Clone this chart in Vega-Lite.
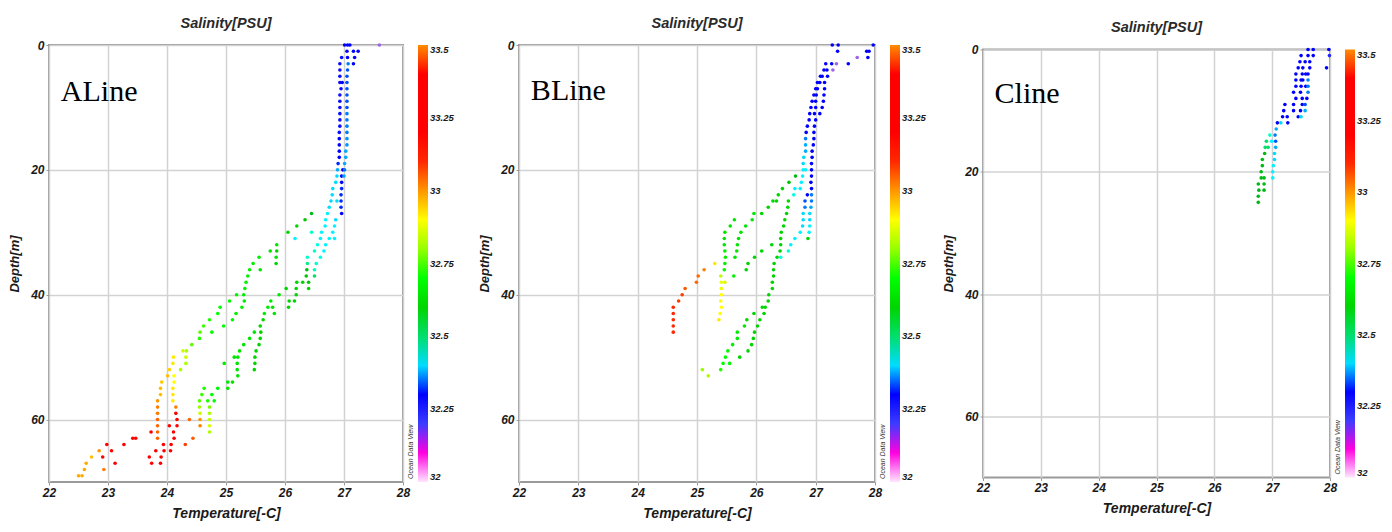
{
  "$schema": "https://vega.github.io/schema/vega-lite/v6.json",
  "background": "white",
  "padding": {"left": 7, "top": 14, "right": 0, "bottom": 0},
  "config": {
    "view": {"stroke": "#9a9a9a", "strokeWidth": 2},
    "axis": {"labelFont": "Liberation Sans", "labelFontStyle": "italic", "labelFontWeight": "bold", "labelFontSize": 12, "labelColor": "#1a1a1a", "titleFont": "Liberation Sans", "titleFontStyle": "italic", "titleFontWeight": "bold", "titleColor": "#1a1a1a", "gridColor": "#d2d2d2", "gridWidth": 1.5, "domain": false, "tickColor": "#9a9a9a", "tickSize": 3, "labelPadding": 2, "labelFlush": false, "format": "d"},
    "axisX": {"titleFontSize": 14, "titlePadding": 8},
    "axisY": {"titleFontSize": 13, "titlePadding": 9},
    "legend": {"offset": 15, "gradientThickness": 10, "labelFont": "Liberation Sans", "labelFontStyle": "italic", "labelFontWeight": "bold", "labelFontSize": 9.5, "labelColor": "#1a1a1a", "labelOffset": 3, "gradientStrokeWidth": 0},
    "title": {"font": "Liberation Sans", "fontSize": 14.5, "fontWeight": "bold", "fontStyle": "italic", "color": "#2a2a2a", "offset": 8, "frame": "group", "anchor": "middle"}
  },
  "datasets": {
    "labels": [
      {"line": "A", "label": "ALine", "temp": 22.2, "depth": 9.0},
      {"line": "B", "label": "BLine", "temp": 22.2, "depth": 8.8},
      {"line": "C", "label": "Cline", "temp": 22.2, "depth": 8.8}
    ],
    "points": [
      {"line":"A","depth":0,"temp":27.01,"sal":32.26},{"line":"A","depth":0,"temp":27.06,"sal":32.26},{"line":"A","depth":0,"temp":27.10,"sal":32.28},{"line":"A","depth":0,"temp":27.60,"sal":32.15},
      {"line":"A","depth":1,"temp":27.05,"sal":32.26},{"line":"A","depth":1,"temp":27.16,"sal":32.26},{"line":"A","depth":1,"temp":27.24,"sal":32.26},
      {"line":"A","depth":2,"temp":26.96,"sal":32.24},{"line":"A","depth":2,"temp":27.06,"sal":32.26},{"line":"A","depth":2,"temp":27.18,"sal":32.30},
      {"line":"A","depth":3,"temp":26.93,"sal":32.24},{"line":"A","depth":3,"temp":27.07,"sal":32.36},{"line":"A","depth":3,"temp":27.16,"sal":32.30},
      {"line":"A","depth":4,"temp":26.93,"sal":32.24},{"line":"A","depth":4,"temp":27.06,"sal":32.34},
      {"line":"A","depth":5,"temp":26.93,"sal":32.24},{"line":"A","depth":5,"temp":27.05,"sal":32.34},
      {"line":"A","depth":6,"temp":26.93,"sal":32.24},{"line":"A","depth":6,"temp":26.97,"sal":32.26},{"line":"A","depth":6,"temp":27.05,"sal":32.34},
      {"line":"A","depth":7,"temp":26.95,"sal":32.24},{"line":"A","depth":7,"temp":27.05,"sal":32.34},
      {"line":"A","depth":8,"temp":26.93,"sal":32.24},{"line":"A","depth":8,"temp":27.05,"sal":32.34},
      {"line":"A","depth":9,"temp":26.93,"sal":32.24},{"line":"A","depth":9,"temp":27.05,"sal":32.34},
      {"line":"A","depth":10,"temp":26.93,"sal":32.24},{"line":"A","depth":10,"temp":27.05,"sal":32.34},
      {"line":"A","depth":11,"temp":26.93,"sal":32.24},{"line":"A","depth":11,"temp":27.05,"sal":32.36},
      {"line":"A","depth":12,"temp":26.93,"sal":32.24},{"line":"A","depth":12,"temp":27.05,"sal":32.36},
      {"line":"A","depth":13,"temp":26.93,"sal":32.24},{"line":"A","depth":13,"temp":27.05,"sal":32.36},
      {"line":"A","depth":14,"temp":26.92,"sal":32.24},{"line":"A","depth":14,"temp":27.05,"sal":32.36},
      {"line":"A","depth":15,"temp":26.92,"sal":32.25},{"line":"A","depth":15,"temp":27.05,"sal":32.37},
      {"line":"A","depth":16,"temp":26.92,"sal":32.25},{"line":"A","depth":16,"temp":27.05,"sal":32.37},
      {"line":"A","depth":17,"temp":26.92,"sal":32.30},{"line":"A","depth":17,"temp":27.03,"sal":32.38},
      {"line":"A","depth":18,"temp":26.92,"sal":32.30},{"line":"A","depth":18,"temp":27.03,"sal":32.38},
      {"line":"A","depth":19,"temp":26.90,"sal":32.32},{"line":"A","depth":19,"temp":27.01,"sal":32.38},
      {"line":"A","depth":20,"temp":26.89,"sal":32.38},{"line":"A","depth":20,"temp":26.98,"sal":32.30},{"line":"A","depth":20,"temp":27.01,"sal":32.36},
      {"line":"A","depth":21,"temp":26.88,"sal":32.40},{"line":"A","depth":21,"temp":26.96,"sal":32.30},{"line":"A","depth":21,"temp":27.00,"sal":32.38},
      {"line":"A","depth":22,"temp":26.86,"sal":32.40},{"line":"A","depth":22,"temp":26.96,"sal":32.30},
      {"line":"A","depth":23,"temp":26.81,"sal":32.40},{"line":"A","depth":23,"temp":26.96,"sal":32.32},
      {"line":"A","depth":24,"temp":26.80,"sal":32.40},{"line":"A","depth":24,"temp":26.95,"sal":32.32},
      {"line":"A","depth":25,"temp":26.78,"sal":32.40},{"line":"A","depth":25,"temp":26.88,"sal":32.40},{"line":"A","depth":25,"temp":26.95,"sal":32.32},
      {"line":"A","depth":26,"temp":26.75,"sal":32.40},{"line":"A","depth":26,"temp":26.95,"sal":32.32},
      {"line":"A","depth":27,"temp":26.45,"sal":32.55},{"line":"A","depth":27,"temp":26.72,"sal":32.42},{"line":"A","depth":27,"temp":26.96,"sal":32.30},
      {"line":"A","depth":28,"temp":26.34,"sal":32.58},{"line":"A","depth":28,"temp":26.69,"sal":32.42},{"line":"A","depth":28,"temp":26.86,"sal":32.40},
      {"line":"A","depth":29,"temp":26.20,"sal":32.60},{"line":"A","depth":29,"temp":26.68,"sal":32.42},{"line":"A","depth":29,"temp":26.84,"sal":32.42},
      {"line":"A","depth":30,"temp":26.05,"sal":32.60},{"line":"A","depth":30,"temp":26.45,"sal":32.45},{"line":"A","depth":30,"temp":26.62,"sal":32.42},{"line":"A","depth":30,"temp":26.81,"sal":32.42},
      {"line":"A","depth":31,"temp":26.17,"sal":32.42},{"line":"A","depth":31,"temp":26.60,"sal":32.42},{"line":"A","depth":31,"temp":26.75,"sal":32.42},{"line":"A","depth":31,"temp":26.84,"sal":32.42},
      {"line":"A","depth":32,"temp":25.86,"sal":32.62},{"line":"A","depth":32,"temp":26.55,"sal":32.44},{"line":"A","depth":32,"temp":26.69,"sal":32.42},
      {"line":"A","depth":33,"temp":25.75,"sal":32.62},{"line":"A","depth":33,"temp":25.86,"sal":32.60},{"line":"A","depth":33,"temp":26.50,"sal":32.45},{"line":"A","depth":33,"temp":26.66,"sal":32.42},
      {"line":"A","depth":34,"temp":25.56,"sal":32.65},{"line":"A","depth":34,"temp":25.85,"sal":32.62},{"line":"A","depth":34,"temp":26.38,"sal":32.45},{"line":"A","depth":34,"temp":26.60,"sal":32.44},
      {"line":"A","depth":35,"temp":25.46,"sal":32.65},{"line":"A","depth":35,"temp":25.85,"sal":32.60},{"line":"A","depth":35,"temp":26.38,"sal":32.48},{"line":"A","depth":35,"temp":26.53,"sal":32.45},
      {"line":"A","depth":36,"temp":25.40,"sal":32.66},{"line":"A","depth":36,"temp":25.58,"sal":32.62},{"line":"A","depth":36,"temp":26.37,"sal":32.55},{"line":"A","depth":36,"temp":26.50,"sal":32.46},
      {"line":"A","depth":37,"temp":25.37,"sal":32.66},{"line":"A","depth":37,"temp":26.36,"sal":32.58},{"line":"A","depth":37,"temp":26.50,"sal":32.50},
      {"line":"A","depth":38,"temp":25.34,"sal":32.66},{"line":"A","depth":38,"temp":26.20,"sal":32.60},{"line":"A","depth":38,"temp":26.30,"sal":32.60},{"line":"A","depth":38,"temp":26.40,"sal":32.58},
      {"line":"A","depth":39,"temp":25.32,"sal":32.66},{"line":"A","depth":39,"temp":26.02,"sal":32.60},{"line":"A","depth":39,"temp":26.19,"sal":32.60},{"line":"A","depth":39,"temp":26.40,"sal":32.60},
      {"line":"A","depth":40,"temp":25.18,"sal":32.66},{"line":"A","depth":40,"temp":25.30,"sal":32.65},{"line":"A","depth":40,"temp":25.90,"sal":32.62},{"line":"A","depth":40,"temp":26.19,"sal":32.60},
      {"line":"A","depth":41,"temp":25.06,"sal":32.68},{"line":"A","depth":41,"temp":25.31,"sal":32.65},{"line":"A","depth":41,"temp":25.76,"sal":32.64},{"line":"A","depth":41,"temp":26.07,"sal":32.60},{"line":"A","depth":41,"temp":26.16,"sal":32.60},
      {"line":"A","depth":42,"temp":24.90,"sal":32.70},{"line":"A","depth":42,"temp":25.27,"sal":32.66},{"line":"A","depth":42,"temp":25.71,"sal":32.64},{"line":"A","depth":42,"temp":25.79,"sal":32.62},{"line":"A","depth":42,"temp":26.06,"sal":32.60},
      {"line":"A","depth":43,"temp":24.86,"sal":32.70},{"line":"A","depth":43,"temp":25.17,"sal":32.66},{"line":"A","depth":43,"temp":25.65,"sal":32.64},{"line":"A","depth":43,"temp":25.82,"sal":32.62},
      {"line":"A","depth":44,"temp":24.72,"sal":32.72},{"line":"A","depth":44,"temp":25.11,"sal":32.68},{"line":"A","depth":44,"temp":25.63,"sal":32.60},
      {"line":"A","depth":45,"temp":24.62,"sal":32.74},{"line":"A","depth":45,"temp":24.96,"sal":32.70},{"line":"A","depth":45,"temp":25.58,"sal":32.60},
      {"line":"A","depth":46,"temp":24.56,"sal":32.76},{"line":"A","depth":46,"temp":24.76,"sal":32.70},{"line":"A","depth":46,"temp":25.48,"sal":32.62},{"line":"A","depth":46,"temp":25.59,"sal":32.60},
      {"line":"A","depth":47,"temp":24.55,"sal":32.72},{"line":"A","depth":47,"temp":25.40,"sal":32.62},{"line":"A","depth":47,"temp":25.58,"sal":32.60},
      {"line":"A","depth":48,"temp":24.42,"sal":32.76},{"line":"A","depth":48,"temp":25.30,"sal":32.62},{"line":"A","depth":48,"temp":25.56,"sal":32.60},
      {"line":"A","depth":49,"temp":24.27,"sal":32.85},{"line":"A","depth":49,"temp":24.33,"sal":32.82},{"line":"A","depth":49,"temp":25.23,"sal":32.62},{"line":"A","depth":49,"temp":25.51,"sal":32.60},
      {"line":"A","depth":50,"temp":24.11,"sal":32.92},{"line":"A","depth":50,"temp":24.32,"sal":32.85},{"line":"A","depth":50,"temp":25.14,"sal":32.62},{"line":"A","depth":50,"temp":25.20,"sal":32.62},{"line":"A","depth":50,"temp":25.49,"sal":32.60},
      {"line":"A","depth":51,"temp":24.10,"sal":32.92},{"line":"A","depth":51,"temp":24.32,"sal":32.82},{"line":"A","depth":51,"temp":24.97,"sal":32.64},{"line":"A","depth":51,"temp":25.19,"sal":32.62},{"line":"A","depth":51,"temp":25.49,"sal":32.60},
      {"line":"A","depth":52,"temp":24.04,"sal":32.94},{"line":"A","depth":52,"temp":24.23,"sal":32.82},{"line":"A","depth":52,"temp":25.19,"sal":32.62},{"line":"A","depth":52,"temp":25.48,"sal":32.60},
      {"line":"A","depth":53,"temp":24.01,"sal":32.96},{"line":"A","depth":53,"temp":24.12,"sal":32.90},{"line":"A","depth":53,"temp":25.20,"sal":32.62},
      {"line":"A","depth":54,"temp":23.91,"sal":32.95},{"line":"A","depth":54,"temp":24.12,"sal":32.90},{"line":"A","depth":54,"temp":25.03,"sal":32.64},{"line":"A","depth":54,"temp":25.11,"sal":32.62},
      {"line":"A","depth":55,"temp":23.89,"sal":32.96},{"line":"A","depth":55,"temp":24.10,"sal":32.92},{"line":"A","depth":55,"temp":24.63,"sal":32.72},{"line":"A","depth":55,"temp":24.86,"sal":32.68},{"line":"A","depth":55,"temp":25.03,"sal":32.64},
      {"line":"A","depth":56,"temp":23.89,"sal":32.96},{"line":"A","depth":56,"temp":24.10,"sal":32.92},{"line":"A","depth":56,"temp":24.59,"sal":32.74},{"line":"A","depth":56,"temp":24.76,"sal":32.70},
      {"line":"A","depth":57,"temp":23.84,"sal":33.00},{"line":"A","depth":57,"temp":24.10,"sal":32.92},{"line":"A","depth":57,"temp":24.55,"sal":32.76},{"line":"A","depth":57,"temp":24.69,"sal":32.72},{"line":"A","depth":57,"temp":24.80,"sal":32.70},
      {"line":"A","depth":58,"temp":23.84,"sal":33.02},{"line":"A","depth":58,"temp":24.15,"sal":33.02},{"line":"A","depth":58,"temp":24.55,"sal":32.80},{"line":"A","depth":58,"temp":24.72,"sal":32.78},
      {"line":"A","depth":59,"temp":23.84,"sal":33.02},{"line":"A","depth":59,"temp":24.15,"sal":33.15},{"line":"A","depth":59,"temp":24.56,"sal":32.85},{"line":"A","depth":59,"temp":24.72,"sal":32.82},
      {"line":"A","depth":60,"temp":23.84,"sal":33.04},{"line":"A","depth":60,"temp":24.17,"sal":33.20},{"line":"A","depth":60,"temp":24.38,"sal":33.04},{"line":"A","depth":60,"temp":24.56,"sal":33.00},{"line":"A","depth":60,"temp":24.72,"sal":32.84},
      {"line":"A","depth":61,"temp":23.84,"sal":33.04},{"line":"A","depth":61,"temp":24.04,"sal":33.20},{"line":"A","depth":61,"temp":24.17,"sal":33.20},{"line":"A","depth":61,"temp":24.56,"sal":33.02},{"line":"A","depth":61,"temp":24.72,"sal":32.86},
      {"line":"A","depth":62,"temp":23.73,"sal":33.20},{"line":"A","depth":62,"temp":23.84,"sal":33.04},{"line":"A","depth":62,"temp":24.11,"sal":33.20},{"line":"A","depth":62,"temp":24.72,"sal":32.82},
      {"line":"A","depth":63,"temp":23.42,"sal":33.25},{"line":"A","depth":63,"temp":23.47,"sal":33.25},{"line":"A","depth":63,"temp":23.84,"sal":33.04},{"line":"A","depth":63,"temp":24.12,"sal":33.20},{"line":"A","depth":63,"temp":24.44,"sal":33.05},
      {"line":"A","depth":64,"temp":22.98,"sal":33.22},{"line":"A","depth":64,"temp":23.27,"sal":33.25},{"line":"A","depth":64,"temp":23.94,"sal":33.20},{"line":"A","depth":64,"temp":24.07,"sal":33.20},{"line":"A","depth":64,"temp":24.31,"sal":33.08},
      {"line":"A","depth":65,"temp":22.85,"sal":33.00},{"line":"A","depth":65,"temp":23.06,"sal":33.20},{"line":"A","depth":65,"temp":23.81,"sal":33.20},{"line":"A","depth":65,"temp":23.95,"sal":33.20},{"line":"A","depth":65,"temp":24.06,"sal":33.20},
      {"line":"A","depth":66,"temp":22.72,"sal":32.96},{"line":"A","depth":66,"temp":22.91,"sal":33.20},{"line":"A","depth":66,"temp":23.70,"sal":33.20},{"line":"A","depth":66,"temp":23.90,"sal":33.22},
      {"line":"A","depth":67,"temp":22.63,"sal":32.98},{"line":"A","depth":67,"temp":23.12,"sal":33.22},{"line":"A","depth":67,"temp":23.74,"sal":33.20},{"line":"A","depth":67,"temp":23.89,"sal":33.20},
      {"line":"A","depth":68,"temp":22.60,"sal":32.98},{"line":"A","depth":68,"temp":22.93,"sal":33.02},
      {"line":"A","depth":69,"temp":22.50,"sal":32.98},{"line":"A","depth":69,"temp":22.56,"sal":32.98},

      {"line":"B","depth":0,"temp":27.28,"sal":32.25},{"line":"B","depth":0,"temp":27.38,"sal":32.25},{"line":"B","depth":0,"temp":27.97,"sal":32.25},
      {"line":"B","depth":1,"temp":27.37,"sal":32.25},{"line":"B","depth":1,"temp":27.86,"sal":32.25},{"line":"B","depth":1,"temp":27.90,"sal":32.25},
      {"line":"B","depth":2,"temp":27.70,"sal":32.15},{"line":"B","depth":2,"temp":27.88,"sal":32.25},
      {"line":"B","depth":3,"temp":27.17,"sal":32.25},{"line":"B","depth":3,"temp":27.27,"sal":32.25},{"line":"B","depth":3,"temp":27.35,"sal":32.15},{"line":"B","depth":3,"temp":27.55,"sal":32.25},
      {"line":"B","depth":4,"temp":27.14,"sal":32.25},{"line":"B","depth":4,"temp":27.19,"sal":32.25},{"line":"B","depth":4,"temp":27.29,"sal":32.15},
      {"line":"B","depth":5,"temp":27.08,"sal":32.25},{"line":"B","depth":5,"temp":27.11,"sal":32.25},{"line":"B","depth":5,"temp":27.20,"sal":32.25},
      {"line":"B","depth":6,"temp":27.03,"sal":32.25},{"line":"B","depth":6,"temp":27.07,"sal":32.25},{"line":"B","depth":6,"temp":27.15,"sal":32.25},
      {"line":"B","depth":7,"temp":27.00,"sal":32.25},{"line":"B","depth":7,"temp":27.03,"sal":32.25},{"line":"B","depth":7,"temp":27.15,"sal":32.25},
      {"line":"B","depth":8,"temp":26.97,"sal":32.25},{"line":"B","depth":8,"temp":27.01,"sal":32.25},{"line":"B","depth":8,"temp":27.14,"sal":32.25},
      {"line":"B","depth":9,"temp":26.94,"sal":32.25},{"line":"B","depth":9,"temp":27.00,"sal":32.25},{"line":"B","depth":9,"temp":27.13,"sal":32.25},
      {"line":"B","depth":10,"temp":26.92,"sal":32.25},{"line":"B","depth":10,"temp":27.00,"sal":32.25},{"line":"B","depth":10,"temp":27.11,"sal":32.25},
      {"line":"B","depth":11,"temp":26.90,"sal":32.25},{"line":"B","depth":11,"temp":26.98,"sal":32.25},{"line":"B","depth":11,"temp":27.07,"sal":32.25},
      {"line":"B","depth":12,"temp":26.89,"sal":32.26},{"line":"B","depth":12,"temp":27.00,"sal":32.25},
      {"line":"B","depth":13,"temp":26.86,"sal":32.28},{"line":"B","depth":13,"temp":26.98,"sal":32.25},
      {"line":"B","depth":14,"temp":26.84,"sal":32.30},{"line":"B","depth":14,"temp":26.97,"sal":32.25},
      {"line":"B","depth":15,"temp":26.83,"sal":32.36},{"line":"B","depth":15,"temp":26.97,"sal":32.25},
      {"line":"B","depth":16,"temp":26.83,"sal":32.38},{"line":"B","depth":16,"temp":26.96,"sal":32.25},
      {"line":"B","depth":17,"temp":26.83,"sal":32.38},{"line":"B","depth":17,"temp":26.94,"sal":32.25},
      {"line":"B","depth":18,"temp":26.80,"sal":32.40},{"line":"B","depth":18,"temp":26.94,"sal":32.25},
      {"line":"B","depth":19,"temp":26.79,"sal":32.40},{"line":"B","depth":19,"temp":26.93,"sal":32.25},
      {"line":"B","depth":20,"temp":26.79,"sal":32.42},{"line":"B","depth":20,"temp":26.83,"sal":32.42},{"line":"B","depth":20,"temp":26.93,"sal":32.25},
      {"line":"B","depth":21,"temp":26.66,"sal":32.55},{"line":"B","depth":21,"temp":26.78,"sal":32.42},{"line":"B","depth":21,"temp":26.93,"sal":32.25},
      {"line":"B","depth":22,"temp":26.55,"sal":32.58},{"line":"B","depth":22,"temp":26.76,"sal":32.42},{"line":"B","depth":22,"temp":26.92,"sal":32.25},
      {"line":"B","depth":23,"temp":26.44,"sal":32.60},{"line":"B","depth":23,"temp":26.65,"sal":32.42},{"line":"B","depth":23,"temp":26.74,"sal":32.42},{"line":"B","depth":23,"temp":26.93,"sal":32.26},
      {"line":"B","depth":24,"temp":26.37,"sal":32.60},{"line":"B","depth":24,"temp":26.63,"sal":32.44},{"line":"B","depth":24,"temp":26.86,"sal":32.30},{"line":"B","depth":24,"temp":26.93,"sal":32.36},
      {"line":"B","depth":25,"temp":26.28,"sal":32.60},{"line":"B","depth":25,"temp":26.34,"sal":32.60},{"line":"B","depth":25,"temp":26.54,"sal":32.60},{"line":"B","depth":25,"temp":26.82,"sal":32.34},{"line":"B","depth":25,"temp":26.93,"sal":32.36},
      {"line":"B","depth":26,"temp":26.20,"sal":32.60},{"line":"B","depth":26,"temp":26.53,"sal":32.60},{"line":"B","depth":26,"temp":26.82,"sal":32.36},{"line":"B","depth":26,"temp":26.92,"sal":32.38},
      {"line":"B","depth":27,"temp":25.96,"sal":32.62},{"line":"B","depth":27,"temp":26.09,"sal":32.60},{"line":"B","depth":27,"temp":26.51,"sal":32.60},{"line":"B","depth":27,"temp":26.79,"sal":32.40},{"line":"B","depth":27,"temp":26.90,"sal":32.40},
      {"line":"B","depth":28,"temp":25.63,"sal":32.62},{"line":"B","depth":28,"temp":25.93,"sal":32.62},{"line":"B","depth":28,"temp":26.48,"sal":32.60},{"line":"B","depth":28,"temp":26.79,"sal":32.40},{"line":"B","depth":28,"temp":26.90,"sal":32.40},
      {"line":"B","depth":29,"temp":25.56,"sal":32.62},{"line":"B","depth":29,"temp":25.82,"sal":32.62},{"line":"B","depth":29,"temp":26.46,"sal":32.60},{"line":"B","depth":29,"temp":26.78,"sal":32.40},{"line":"B","depth":29,"temp":26.90,"sal":32.42},
      {"line":"B","depth":30,"temp":25.47,"sal":32.62},{"line":"B","depth":30,"temp":25.74,"sal":32.62},{"line":"B","depth":30,"temp":26.42,"sal":32.60},{"line":"B","depth":30,"temp":26.74,"sal":32.42},{"line":"B","depth":30,"temp":26.89,"sal":32.42},
      {"line":"B","depth":31,"temp":25.46,"sal":32.62},{"line":"B","depth":31,"temp":25.70,"sal":32.62},{"line":"B","depth":31,"temp":26.41,"sal":32.60},{"line":"B","depth":31,"temp":26.65,"sal":32.42},{"line":"B","depth":31,"temp":26.87,"sal":32.60},
      {"line":"B","depth":32,"temp":25.46,"sal":32.62},{"line":"B","depth":32,"temp":25.68,"sal":32.62},{"line":"B","depth":32,"temp":26.26,"sal":32.60},{"line":"B","depth":32,"temp":26.41,"sal":32.60},{"line":"B","depth":32,"temp":26.58,"sal":32.42},
      {"line":"B","depth":33,"temp":25.47,"sal":32.64},{"line":"B","depth":33,"temp":25.67,"sal":32.62},{"line":"B","depth":33,"temp":26.09,"sal":32.60},{"line":"B","depth":33,"temp":26.40,"sal":32.60},{"line":"B","depth":33,"temp":26.54,"sal":32.44},
      {"line":"B","depth":34,"temp":25.48,"sal":32.64},{"line":"B","depth":34,"temp":25.64,"sal":32.62},{"line":"B","depth":34,"temp":25.97,"sal":32.60},{"line":"B","depth":34,"temp":26.35,"sal":32.60},{"line":"B","depth":34,"temp":26.41,"sal":32.44},
      {"line":"B","depth":35,"temp":25.30,"sal":32.92},{"line":"B","depth":35,"temp":25.47,"sal":32.66},{"line":"B","depth":35,"temp":25.86,"sal":32.60},{"line":"B","depth":35,"temp":26.30,"sal":32.60},
      {"line":"B","depth":36,"temp":25.12,"sal":33.02},{"line":"B","depth":36,"temp":25.46,"sal":32.68},{"line":"B","depth":36,"temp":25.83,"sal":32.60},{"line":"B","depth":36,"temp":26.29,"sal":32.60},
      {"line":"B","depth":37,"temp":25.02,"sal":33.04},{"line":"B","depth":37,"temp":25.40,"sal":32.84},{"line":"B","depth":37,"temp":25.62,"sal":32.66},{"line":"B","depth":37,"temp":26.29,"sal":32.60},
      {"line":"B","depth":38,"temp":24.99,"sal":33.04},{"line":"B","depth":38,"temp":25.41,"sal":32.88},{"line":"B","depth":38,"temp":25.47,"sal":32.86},{"line":"B","depth":38,"temp":26.27,"sal":32.60},
      {"line":"B","depth":39,"temp":24.80,"sal":33.05},{"line":"B","depth":39,"temp":25.41,"sal":32.88},{"line":"B","depth":39,"temp":26.27,"sal":32.60},
      {"line":"B","depth":40,"temp":24.75,"sal":33.08},{"line":"B","depth":40,"temp":25.41,"sal":32.90},{"line":"B","depth":40,"temp":26.21,"sal":32.60},
      {"line":"B","depth":41,"temp":24.69,"sal":33.08},{"line":"B","depth":41,"temp":25.40,"sal":32.90},{"line":"B","depth":41,"temp":26.20,"sal":32.60},
      {"line":"B","depth":42,"temp":24.60,"sal":33.10},{"line":"B","depth":42,"temp":25.41,"sal":32.90},{"line":"B","depth":42,"temp":26.10,"sal":32.60},{"line":"B","depth":42,"temp":26.15,"sal":32.60},
      {"line":"B","depth":43,"temp":24.60,"sal":33.10},{"line":"B","depth":43,"temp":25.39,"sal":32.90},{"line":"B","depth":43,"temp":25.96,"sal":32.60},{"line":"B","depth":43,"temp":26.13,"sal":32.60},
      {"line":"B","depth":44,"temp":24.60,"sal":33.10},{"line":"B","depth":44,"temp":25.37,"sal":32.92},{"line":"B","depth":44,"temp":25.84,"sal":32.60},{"line":"B","depth":44,"temp":26.06,"sal":32.60},
      {"line":"B","depth":45,"temp":24.60,"sal":33.10},{"line":"B","depth":45,"temp":25.80,"sal":32.62},{"line":"B","depth":45,"temp":26.02,"sal":32.60},
      {"line":"B","depth":46,"temp":24.60,"sal":33.10},{"line":"B","depth":46,"temp":25.68,"sal":32.64},{"line":"B","depth":46,"temp":25.97,"sal":32.60},
      {"line":"B","depth":47,"temp":25.68,"sal":32.64},{"line":"B","depth":47,"temp":25.95,"sal":32.60},
      {"line":"B","depth":48,"temp":25.60,"sal":32.66},{"line":"B","depth":48,"temp":25.92,"sal":32.60},
      {"line":"B","depth":49,"temp":25.52,"sal":32.68},{"line":"B","depth":49,"temp":25.86,"sal":32.60},
      {"line":"B","depth":50,"temp":25.48,"sal":32.70},{"line":"B","depth":50,"temp":25.72,"sal":32.60},
      {"line":"B","depth":51,"temp":25.44,"sal":32.70},{"line":"B","depth":51,"temp":25.55,"sal":32.68},
      {"line":"B","depth":52,"temp":25.09,"sal":32.80},{"line":"B","depth":52,"temp":25.40,"sal":32.72},
      {"line":"B","depth":53,"temp":25.19,"sal":32.82},

      {"line":"C","depth":0,"temp":27.62,"sal":32.25},{"line":"C","depth":0,"temp":27.71,"sal":32.25},{"line":"C","depth":0,"temp":27.98,"sal":32.25},
      {"line":"C","depth":1,"temp":27.50,"sal":32.25},{"line":"C","depth":1,"temp":27.62,"sal":32.25},{"line":"C","depth":1,"temp":27.71,"sal":32.25},{"line":"C","depth":1,"temp":27.99,"sal":32.22},
      {"line":"C","depth":2,"temp":27.48,"sal":32.25},{"line":"C","depth":2,"temp":27.57,"sal":32.25},{"line":"C","depth":2,"temp":27.65,"sal":32.25},
      {"line":"C","depth":3,"temp":27.45,"sal":32.25},{"line":"C","depth":3,"temp":27.53,"sal":32.25},{"line":"C","depth":3,"temp":27.65,"sal":32.25},{"line":"C","depth":3,"temp":27.94,"sal":32.25},
      {"line":"C","depth":4,"temp":27.41,"sal":32.25},{"line":"C","depth":4,"temp":27.52,"sal":32.25},{"line":"C","depth":4,"temp":27.58,"sal":32.25},{"line":"C","depth":4,"temp":27.62,"sal":32.30},
      {"line":"C","depth":5,"temp":27.41,"sal":32.25},{"line":"C","depth":5,"temp":27.50,"sal":32.25},{"line":"C","depth":5,"temp":27.53,"sal":32.25},{"line":"C","depth":5,"temp":27.62,"sal":32.36},
      {"line":"C","depth":6,"temp":27.41,"sal":32.25},{"line":"C","depth":6,"temp":27.50,"sal":32.25},{"line":"C","depth":6,"temp":27.58,"sal":32.25},{"line":"C","depth":6,"temp":27.62,"sal":32.36},
      {"line":"C","depth":7,"temp":27.37,"sal":32.25},{"line":"C","depth":7,"temp":27.49,"sal":32.25},{"line":"C","depth":7,"temp":27.62,"sal":32.36},
      {"line":"C","depth":8,"temp":27.41,"sal":32.25},{"line":"C","depth":8,"temp":27.52,"sal":32.25},{"line":"C","depth":8,"temp":27.60,"sal":32.30},
      {"line":"C","depth":9,"temp":27.22,"sal":32.25},{"line":"C","depth":9,"temp":27.37,"sal":32.25},{"line":"C","depth":9,"temp":27.52,"sal":32.25},{"line":"C","depth":9,"temp":27.57,"sal":32.34},
      {"line":"C","depth":10,"temp":27.20,"sal":32.25},{"line":"C","depth":10,"temp":27.37,"sal":32.25},{"line":"C","depth":10,"temp":27.49,"sal":32.25},{"line":"C","depth":10,"temp":27.57,"sal":32.38},
      {"line":"C","depth":11,"temp":27.18,"sal":32.25},{"line":"C","depth":11,"temp":27.26,"sal":32.25},{"line":"C","depth":11,"temp":27.45,"sal":32.25},{"line":"C","depth":11,"temp":27.50,"sal":32.40},
      {"line":"C","depth":12,"temp":27.09,"sal":32.26},{"line":"C","depth":12,"temp":27.15,"sal":32.40},{"line":"C","depth":12,"temp":27.27,"sal":32.25},
      {"line":"C","depth":13,"temp":27.07,"sal":32.38},
      {"line":"C","depth":14,"temp":26.96,"sal":32.45},{"line":"C","depth":14,"temp":27.05,"sal":32.36},
      {"line":"C","depth":15,"temp":26.90,"sal":32.50},{"line":"C","depth":15,"temp":26.99,"sal":32.42},{"line":"C","depth":15,"temp":27.06,"sal":32.34},
      {"line":"C","depth":16,"temp":26.88,"sal":32.50},{"line":"C","depth":16,"temp":26.93,"sal":32.50},{"line":"C","depth":16,"temp":27.06,"sal":32.38},
      {"line":"C","depth":17,"temp":26.87,"sal":32.55},{"line":"C","depth":17,"temp":27.04,"sal":32.40},
      {"line":"C","depth":18,"temp":26.83,"sal":32.55},{"line":"C","depth":18,"temp":27.04,"sal":32.40},
      {"line":"C","depth":19,"temp":26.83,"sal":32.55},{"line":"C","depth":19,"temp":27.02,"sal":32.42},
      {"line":"C","depth":20,"temp":26.81,"sal":32.55},{"line":"C","depth":20,"temp":27.01,"sal":32.42},
      {"line":"C","depth":21,"temp":26.81,"sal":32.55},{"line":"C","depth":21,"temp":26.86,"sal":32.55},{"line":"C","depth":21,"temp":27.01,"sal":32.42},
      {"line":"C","depth":22,"temp":26.76,"sal":32.55},{"line":"C","depth":22,"temp":26.86,"sal":32.55},
      {"line":"C","depth":23,"temp":26.77,"sal":32.55},{"line":"C","depth":23,"temp":26.86,"sal":32.55},
      {"line":"C","depth":24,"temp":26.76,"sal":32.55},
      {"line":"C","depth":25,"temp":26.76,"sal":32.55}
    ]
  },
  "spacing": 22,
  "resolve": {"scale": {"color": "independent"}, "legend": {"color": "independent"}},
  "hconcat": [
    {
      "width": 354, "height": 437,
      "title": {"text": "Salinity[PSU]"},
      "layer": [
        {
          "data": {"name": "points"},
          "transform": [{"filter": "datum.line === 'A'"}],
          "mark": {"type": "circle", "size": 13, "opacity": 1},
          "encoding": {
            "x": {"field": "temp", "type": "quantitative", "title": "Temperature[-C]", "scale": {"domain": [22, 28], "nice": false, "zero": false}, "axis": {"values": [22, 23, 24, 25, 26, 27, 28], "grid": true, "format": "d"}},
            "y": {"field": "depth", "type": "quantitative", "title": "Depth[m]", "scale": {"domain": [0, 70], "reverse": true, "nice": false, "zero": false}, "axis": {"values": [0, 20, 40, 60], "grid": true, "format": "d"}},
            "color": {"field": "sal", "type": "quantitative",
              "scale": {"domain": [32, 32.05, 32.1, 32.15, 32.2, 32.25, 32.3, 32.35, 32.4, 32.43, 32.47, 32.52, 32.56, 32.62, 32.7, 32.8, 32.9, 32.95, 33, 33.05, 33.1, 33.15, 33.45, 33.5],
                        "range": ["#ffe6ff", "#ff66ff", "#ff00e0", "#a064e6", "#3c3cff", "#0000ff", "#0000ff", "#0064ff", "#00dcff", "#00ffff", "#00ff96", "#00c850", "#00b400", "#00e600", "#00ff00", "#96ff00", "#ffff00", "#ffc800", "#ff9600", "#ff5a00", "#ff2800", "#ff0000", "#ff0000", "#ff8c00"], "interpolate": "rgb"},
              "legend": {"title": null, "values": [32, 32.25, 32.5, 32.75, 33, 33.25, 33.5], "labelExpr": "format(datum.value, '~g')", "gradientLength": 437}}
          }
        },
        {
          "data": {"name": "labels"},
          "transform": [{"filter": "datum.line === 'A'"}],
          "mark": {"type": "text", "font": "Liberation Serif", "fontSize": 30, "align": "left", "baseline": "alphabetic", "color": "#000000"},
          "encoding": {"x": {"field": "temp", "type": "quantitative", "title": "Temperature[-C]"}, "y": {"field": "depth", "type": "quantitative", "title": "Depth[m]"}, "text": {"field": "label"}}
        },
        {
          "data": {"values": [{}]},
          "mark": {"type": "text", "angle": 270, "font": "Liberation Sans", "fontSize": 7, "fontStyle": "italic", "color": "#333333", "align": "left", "baseline": "middle", "dx": 3, "dy": 8},
          "encoding": {"x": {"datum": 28}, "y": {"datum": 70}, "text": {"value": "Ocean Data View"}}
        }
      ]
    },
    {
      "spacing": 14,
      "center": true,
      "resolve": {"scale": {"color": "independent"}, "legend": {"color": "independent"}},
      "hconcat": [
        {
          "width": 356, "height": 437,
          "title": {"text": "Salinity[PSU]"},
          "layer": [
            {
              "data": {"name": "points"},
              "transform": [{"filter": "datum.line === 'B'"}],
              "mark": {"type": "circle", "size": 13, "opacity": 1},
              "encoding": {
                "x": {"field": "temp", "type": "quantitative", "title": "Temperature[-C]", "scale": {"domain": [22, 28], "nice": false, "zero": false}, "axis": {"values": [22, 23, 24, 25, 26, 27, 28], "grid": true, "format": "d"}},
                "y": {"field": "depth", "type": "quantitative", "title": "Depth[m]", "scale": {"domain": [0, 70], "reverse": true, "nice": false, "zero": false}, "axis": {"values": [0, 20, 40, 60], "grid": true, "format": "d"}},
                "color": {"field": "sal", "type": "quantitative",
                  "scale": {"domain": [32, 32.05, 32.1, 32.15, 32.2, 32.25, 32.3, 32.35, 32.4, 32.43, 32.47, 32.52, 32.56, 32.62, 32.7, 32.8, 32.9, 32.95, 33, 33.05, 33.1, 33.15, 33.45, 33.5],
                            "range": ["#ffe6ff", "#ff66ff", "#ff00e0", "#a064e6", "#3c3cff", "#0000ff", "#0000ff", "#0064ff", "#00dcff", "#00ffff", "#00ff96", "#00c850", "#00b400", "#00e600", "#00ff00", "#96ff00", "#ffff00", "#ffc800", "#ff9600", "#ff5a00", "#ff2800", "#ff0000", "#ff0000", "#ff8c00"], "interpolate": "rgb"},
                  "legend": {"title": null, "values": [32, 32.25, 32.5, 32.75, 33, 33.25, 33.5], "labelExpr": "format(datum.value, '~g')", "gradientLength": 437}}
              }
            },
            {
              "data": {"name": "labels"},
              "transform": [{"filter": "datum.line === 'B'"}],
              "mark": {"type": "text", "font": "Liberation Serif", "fontSize": 30, "align": "left", "baseline": "alphabetic", "color": "#000000"},
              "encoding": {"x": {"field": "temp", "type": "quantitative", "title": "Temperature[-C]"}, "y": {"field": "depth", "type": "quantitative", "title": "Depth[m]"}, "text": {"field": "label"}}
            },
            {
              "data": {"values": [{}]},
              "mark": {"type": "text", "angle": 270, "font": "Liberation Sans", "fontSize": 7, "fontStyle": "italic", "color": "#333333", "align": "left", "baseline": "middle", "dx": 3, "dy": 8},
              "encoding": {"x": {"datum": 28}, "y": {"datum": 70}, "text": {"value": "Ocean Data View"}}
            }
          ]
        },
        {
          "width": 347, "height": 428,
          "title": {"text": "Salinity[PSU]"},
          "layer": [
            {
              "data": {"name": "points"},
              "transform": [{"filter": "datum.line === 'C'"}],
              "mark": {"type": "circle", "size": 13, "opacity": 1},
              "encoding": {
                "x": {"field": "temp", "type": "quantitative", "title": "Temperature[-C]", "scale": {"domain": [22, 28], "nice": false, "zero": false}, "axis": {"values": [22, 23, 24, 25, 26, 27, 28], "grid": true, "format": "d"}},
                "y": {"field": "depth", "type": "quantitative", "title": "Depth[m]", "scale": {"domain": [0, 70], "reverse": true, "nice": false, "zero": false}, "axis": {"values": [0, 20, 40, 60], "grid": true, "format": "d"}},
                "color": {"field": "sal", "type": "quantitative",
                  "scale": {"domain": [32, 32.05, 32.1, 32.15, 32.2, 32.25, 32.3, 32.35, 32.4, 32.43, 32.47, 32.52, 32.56, 32.62, 32.7, 32.8, 32.9, 32.95, 33, 33.05, 33.1, 33.15, 33.45, 33.5],
                            "range": ["#ffe6ff", "#ff66ff", "#ff00e0", "#a064e6", "#3c3cff", "#0000ff", "#0000ff", "#0064ff", "#00dcff", "#00ffff", "#00ff96", "#00c850", "#00b400", "#00e600", "#00ff00", "#96ff00", "#ffff00", "#ffc800", "#ff9600", "#ff5a00", "#ff2800", "#ff0000", "#ff0000", "#ff8c00"], "interpolate": "rgb"},
                  "legend": {"title": null, "values": [32, 32.25, 32.5, 32.75, 33, 33.25, 33.5], "labelExpr": "format(datum.value, '~g')", "gradientLength": 428}}
              }
            },
            {
              "data": {"name": "labels"},
              "transform": [{"filter": "datum.line === 'C'"}],
              "mark": {"type": "text", "font": "Liberation Serif", "fontSize": 30, "align": "left", "baseline": "alphabetic", "color": "#000000"},
              "encoding": {"x": {"field": "temp", "type": "quantitative", "title": "Temperature[-C]"}, "y": {"field": "depth", "type": "quantitative", "title": "Depth[m]"}, "text": {"field": "label"}}
            },
            {
              "data": {"values": [{}]},
              "mark": {"type": "text", "angle": 270, "font": "Liberation Sans", "fontSize": 7, "fontStyle": "italic", "color": "#333333", "align": "left", "baseline": "middle", "dx": 3, "dy": 8},
              "encoding": {"x": {"datum": 28}, "y": {"datum": 70}, "text": {"value": "Ocean Data View"}}
            }
          ]
        }
      ]
    }
  ]
}
